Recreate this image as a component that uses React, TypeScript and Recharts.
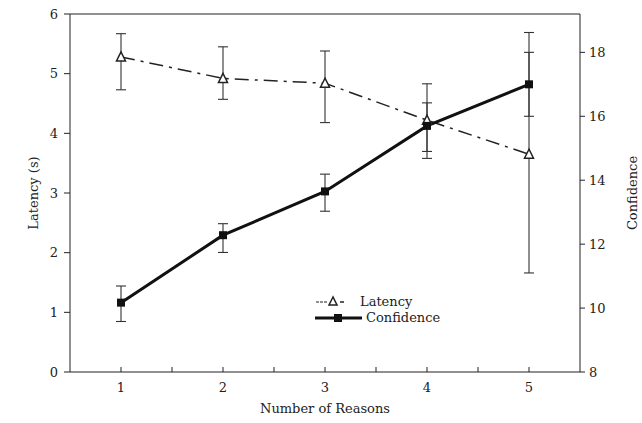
import { LineChart, Line, XAxis, YAxis, ErrorBar, Legend, ReferenceLine } from 'recharts';

const reasons = [1, 2, 3, 4, 5];
const latency = [5.28, 4.92, 4.84, 4.22, 3.65];
// [below, above] the mean
const latencyErr = [[0.55, 0.39], [0.35, 0.53], [0.66, 0.54], [0.64, 0.61], [1.99, 2.04]];
const confidence = [10.17, 12.28, 13.65, 15.7, 17.0];
const confidenceErr = [[0.59, 0.52], [0.54, 0.36], [0.62, 0.54], [0.8, 0.72], [1.0, 1.0]];

const xTicks = [1, 1.5, 2, 2.5, 3, 3.5, 4, 4.5, 5];
const latencyTicks = [0, 1, 2, 3, 4, 5, 6];
const confidenceTicks = [8, 10, 12, 14, 16, 18];

const FONT = '"DejaVu Serif", "Liberation Serif", serif';
const INK = '#222';
const FS = 13;

const data = reasons.map((r, i) => ({
    reasons: r,
    latency: latency[i],
    latencyErr: latencyErr[i],
    confidence: confidence[i],
    confidenceErr: confidenceErr[i],
}));

// x ticks point up into the plot, only whole numbers get a label
const XTick = (props: any) => {
    const { x, y, payload } = props;
    const v = payload.value;
    return (
        <g>
            <line x1={x} x2={x} y1={y} y2={y - 5} stroke={INK} strokeWidth={1} />
            {Number.isInteger(v) && (
                <text x={x} y={y + 20} textAnchor="middle" fontSize={FS} fontFamily={FONT} fill={INK}>
                    {v}
                </text>
            )}
        </g>
    );
};

const triangleDot = (props: any) => {
    const { cx, cy, index } = props;
    if (cx == null || cy == null) return <g key={`t-${index}`} />;
    return (
        <polygon
            key={`t-${index}`}
            points={`${cx},${cy - 5} ${cx - 4.5},${cy + 4} ${cx + 4.5},${cy + 4}`}
            fill="#fff"
            stroke={INK}
            strokeWidth={1.5}
        />
    );
};

const squareDot = (props: any) => {
    const { cx, cy, index } = props;
    if (cx == null || cy == null) return <g key={`s-${index}`} />;
    return <rect key={`s-${index}`} x={cx - 4} y={cy - 4} width={8} height={8} fill="#111" />;
};

const LegendBox = () => (
    <div style={{ fontFamily: FONT, fontSize: FS, color: INK, lineHeight: '16px' }}>
        <div style={{ display: 'flex', alignItems: 'center', height: 16 }}>
            <svg width={46} height={16}>
                <line x1={2} x2={14} y1={8} y2={8} stroke={INK} strokeWidth={1.2} strokeDasharray="3 1" />
                <polygon points="19,3 15,11 23,11" fill="#fff" stroke={INK} strokeWidth={1.5} />
                <line x1={26} x2={30} y1={8} y2={8} stroke={INK} strokeWidth={1.5} />
            </svg>
            <span>Latency</span>
        </div>
        <div style={{ display: 'flex', alignItems: 'center', height: 16 }}>
            <svg width={50} height={16}>
                <line x1={1} x2={48} y1={8} y2={8} stroke="#111" strokeWidth={3} />
                <rect x={20} y={4} width={8} height={8} fill="#111" />
            </svg>
            <span style={{ marginLeft: 2 }}>Confidence</span>
        </div>
    </div>
);

const App = () => {
    return (
        <div style={{ position: 'absolute', left: 0, top: 0, width: 642, height: 423, background: '#fff' }}>
            <LineChart width={642} height={423} data={data} margin={{ top: 14, right: 0, bottom: 0, left: 0 }}>
                <XAxis
                    dataKey="reasons"
                    type="number"
                    domain={[0.5, 5.5]}
                    ticks={xTicks}
                    tick={<XTick />}
                    tickLine={false}
                    tickSize={0}
                    tickMargin={0}
                    height={51}
                    stroke={INK}
                    interval={0}
                    label={{ value: 'Number of Reasons', position: 'insideBottom', offset: 10, fontSize: FS, fontFamily: FONT, fill: INK }}
                />
                <YAxis
                    yAxisId="left"
                    domain={[0, 6]}
                    ticks={latencyTicks}
                    width={70}
                    tickSize={6}
                    tickMargin={6}
                    stroke={INK}
                    interval={0}
                    tick={{ fontSize: FS, fontFamily: FONT, fill: INK }}
                    label={{ value: 'Latency (s)', angle: -90, position: 'center', dx: -2, fontSize: FS, fontFamily: FONT, fill: INK }}
                />
                <YAxis
                    yAxisId="right"
                    orientation="right"
                    domain={[8, 19.2]}
                    ticks={confidenceTicks}
                    width={62}
                    tickSize={5}
                    tickMargin={4}
                    stroke={INK}
                    interval={0}
                    tick={{ fontSize: FS, fontFamily: FONT, fill: INK }}
                    label={{ value: 'Confidence', angle: -90, position: 'center', dx: 21, fontSize: FS, fontFamily: FONT, fill: INK }}
                />
                {/* closes the frame along the top */}
                <ReferenceLine yAxisId="left" y={6} stroke={INK} strokeWidth={1} />
                <Legend
                    layout="vertical"
                    align="center"
                    verticalAlign="middle"
                    content={<LegendBox />}
                    wrapperStyle={{ left: 314, top: 294, width: 160 }}
                />
                <Line
                    yAxisId="left"
                    dataKey="latency"
                    stroke={INK}
                    strokeWidth={1.5}
                    strokeDasharray="14 6 3 6"
                    dot={triangleDot}
                    activeDot={false}
                    isAnimationActive={false}
                >
                    <ErrorBar dataKey="latencyErr" width={5} stroke="#333" strokeWidth={1.1} direction="y" isAnimationActive={false} />
                </Line>
                <Line
                    yAxisId="right"
                    dataKey="confidence"
                    stroke="#111"
                    strokeWidth={3}
                    dot={squareDot}
                    activeDot={false}
                    isAnimationActive={false}
                >
                    <ErrorBar dataKey="confidenceErr" width={5} stroke="#333" strokeWidth={1.1} direction="y" isAnimationActive={false} />
                </Line>
            </LineChart>
        </div>
    );
};

export default App;
